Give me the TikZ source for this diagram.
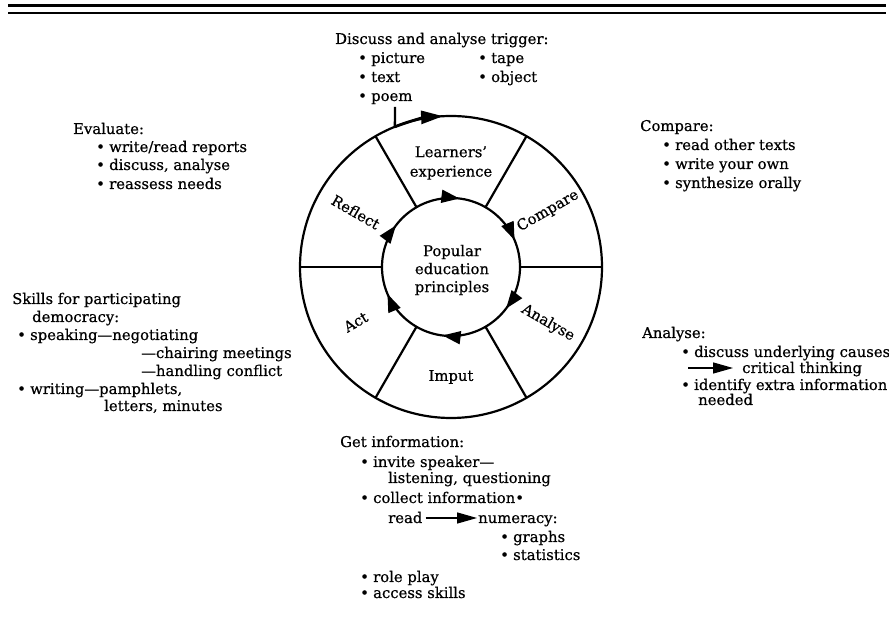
\documentclass[tikz,border=0pt]{standalone}
\usepackage{fontspec}
\setmainfont[FakeBold=0.6]{DejaVu Serif}
\newfontfamily\heavy[FakeBold=0.6]{DejaVu Serif}
\usetikzlibrary{arrows.meta,calc}
\newcommand\fs{\heavy\fontsize{14.8pt}{18pt}\selectfont}
\newcommand\fsw{\heavy\fontsize{14.8pt}{19.5pt}\selectfont}
\newcommand\bul{\makebox[13pt][l]{•}}
\begin{document}
\begin{tikzpicture}[x=1pt,y=1pt,
  txt/.style={anchor=base west, inner sep=0pt, font=\fs},
  wl/.style={line width=2.2pt},
  harrow/.style={line width=1.3pt, -{Triangle[length=20pt,width=11pt]}},
  ring/.style={line width=1.7pt, -{Triangle[length=18pt,width=13pt]}},
  lab/.style={inner sep=0pt, font=\fs, align=center}]
\useasboundingbox (0,0) rectangle (889,618);
% top rules
\coordinate (r1a) at (8,612.5); \coordinate (r1b) at (886,612.5);
\coordinate (r2a) at (8,605); \coordinate (r2b) at (886,605);
\draw[line width=3.2pt] (r1a) -- (r1b);
\draw[line width=2.2pt] (r2a) -- (r2b);
% wheel
\coordinate (C) at (451,351);
\draw[wl] (C) circle[radius=151];
\draw[wl] (C) circle[radius=69];
\foreach \a in {0,60,...,300}
  \draw[wl] ($(C)+(\a:69)$) -- ($(C)+(\a:151)$);
\foreach \m in {90,30,-30,-90,-150,150}
  \draw[ring] ($(C)+(\m+8:69)$) arc[start angle=\m+8, end angle=\m-7, radius=69];
% wheel labels
\node[lab] (ctr) at (452,348) {Popular\\education\\principles};
\node[lab, font=\fsw] (lex) at ($(C)+(90:104)$) {Learners’\\experience};
\node[lab] (imp) at ($(C)+(270:110)$) {Imput};
\node[lab, rotate=30] (cmp) at ($(C)+(30:112)$) {Compare};
\node[lab, rotate=-30] (anl) at ($(C)+(-30:112)$) {Analyse};
\node[lab, rotate=30] (act) at ($(C)+(210:110)$) {Act};
\node[lab, rotate=-30] (rfl) at ($(C)+(150:110)$) {Reflect};
% trigger arrow
\coordinate (pm) at (395,511);
\coordinate (pj) at ($(C)+(111.8:151)$);
\draw[line width=2.4pt] (pm) -- (pj);
\draw[line width=2.8pt, -{Triangle[length=22pt,width=13pt]}] (pj) arc[start angle=111.8, end angle=93, radius=151];
% top block
\node[txt] (t0) at (335,574) {Discuss and analyse trigger:};
\node[txt] (t1) at (358,555) {\bul picture};
\node[txt] (t2) at (478,555) {\bul tape};
\node[txt] (t3) at (358,536) {\bul text};
\node[txt] (t4) at (478,536) {\bul object};
\node[txt] (t5) at (358,517) {\bul poem};
% evaluate
\node[txt] (e0) at (73,484) {Evaluate:};
\node[txt] (e1) at (96,466) {\bul write/read reports};
\node[txt] (e2) at (96,448) {\bul discuss, analyse};
\node[txt] (e3) at (96,429) {\bul reassess needs};
% compare
\node[txt] (c0) at (640,487) {Compare:};
\node[txt] (c1) at (662,468) {\bul read other texts};
\node[txt] (c2) at (662,449) {\bul write your own};
\node[txt] (c3) at (662,430) {\bul synthesize orally};
% skills
\node[txt] (s0) at (12,314) {Skills for participating};
\node[txt] (s1) at (32,296) {democracy:};
\node[txt] (s2) at (17,278) {\bul speaking—negotiating};
\node[txt] (s3) at (141,260) {—chairing meetings};
\node[txt] (s4) at (141,242) {—handling conflict};
\node[txt] (s5) at (17,224) {\bul writing—pamphlets,};
\node[txt] (s6) at (104,207) {letters, minutes};
% analyse
\node[txt] (a0) at (642,280) {Analyse:};
\node[txt] (a1) at (681,261) {\bul discuss underlying causes};
\node[txt] (a2) at (742,245) {critical thinking};
\coordinate (aa1) at (688,250);
\draw[harrow] (aa1) -- ($(a2.west |- aa1)+(-9,0)$);
\node[txt] (a3) at (681,228) {\bul identify extra information};
\node[txt] (a4) at (698,213) {needed};
% get information
\node[txt] (g0) at (340,171) {Get information:};
\node[txt] (g1) at (360,151) {\bul invite speaker—};
\node[txt] (g2) at (388,135) {listening, questioning};
\node[txt] (g3) at (360,115) {\bul collect information•};
\node[txt] (g4) at (388,95) {read};
\node[txt] (g5) at (478,95) {numeracy:};
\draw[harrow] ($(g4.base east)+(3,5)$) -- ($(g5.base west)+(-1,5)$);
\node[txt] (g6) at (500,76) {\bul graphs};
\node[txt] (g7) at (500,58) {\bul statistics};
\node[txt] (g8) at (360,36) {\bul role play};
\node[txt] (g9) at (360,20) {\bul access skills};
\end{tikzpicture}
\end{document}
